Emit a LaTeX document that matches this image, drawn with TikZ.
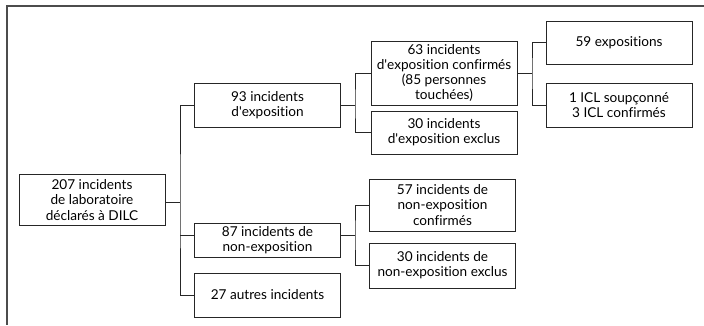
\documentclass[tikz,border=0pt]{standalone}
\usepackage{fontspec}
\setmainfont{Lato}[Ligatures={NoCommon}]
\usetikzlibrary{positioning}

\tikzset{
  box/.style={draw=black!85, line width=0.8pt, align=center, minimum width=146pt,
    inner sep=1pt, font=\fontsize{13.6}{15.3}\selectfont},
  link/.style={draw=black!85, line width=0.8pt}
}
\newcommand{\apos}{\textquotesingle}

\begin{document}
\begin{tikzpicture}[x=1pt, y=-1pt]
      \useasboundingbox (0,0) rectangle (704,325);
      % frame
      \draw[black!70, line width=1.2pt] (704,6) -- (7,6) -- (7,325);

      \node[box, minimum height=51pt] (root) at (92,200)
        {207 incidents\\de laboratoire\\déclarés à DILC};
      \node[box, minimum height=44pt] (expo) at (267.5,105)
        {93 incidents\\d\apos exposition};
      \node[box, minimum height=34pt] (nonexpo) at (267.5,240)
        {87 incidents de\\non-exposition};
      \node[box, minimum height=44pt] (autre) at (267.5,295)
        {27 autres incidents};

      \node[box, minimum height=64pt] (conf) at (444,73)
        {63 incidents\\d\apos exposition confirmés\\(85 personnes\\touchées)};
      \node[box, minimum height=43pt] (excl) at (444,132.5)
        {30 incidents\\d\apos exposition exclus};
      \node[box, minimum height=52pt] (nconf) at (442.5,205)
        {57 incidents de\\non-exposition\\confirmés};
      \node[box, minimum height=45pt] (nexcl) at (442.5,265.5)
        {30 incidents de\\non-exposition exclus};

      \node[box, minimum height=43pt] (expos) at (619,42.5)
        {59 expositions};
      \node[box, minimum height=44pt] (icl) at (619,105)
        {1 ICL soupçonné\\3 ICL confirmés};

      % junctions
      \coordinate (tk) at (180,202);
      \coordinate (tk2) at (355,105);
      \coordinate (tk3) at (532,73);
      \coordinate (tk4) at (355,235);

      \draw[link] (root.east |- tk) -- (tk);
      \draw[link] (expo.west) -| (tk) |- (autre.west);
      \draw[link] (nonexpo.west |- tk4) -- (tk4 -| tk);

      \draw[link] (expo.east) -- (tk2);
      \draw[link] (conf.west) -| (tk2) |- (excl.west);

      \draw[link] (nonexpo.east |- tk4) -- (tk4);
      \draw[link] (nconf.west) -| (tk4) |- (nexcl.west);

      \draw[link] (conf.east) -- (tk3);
      \draw[link] (expos.west) -| (tk3) |- (icl.west);
\end{tikzpicture}
\end{document}
